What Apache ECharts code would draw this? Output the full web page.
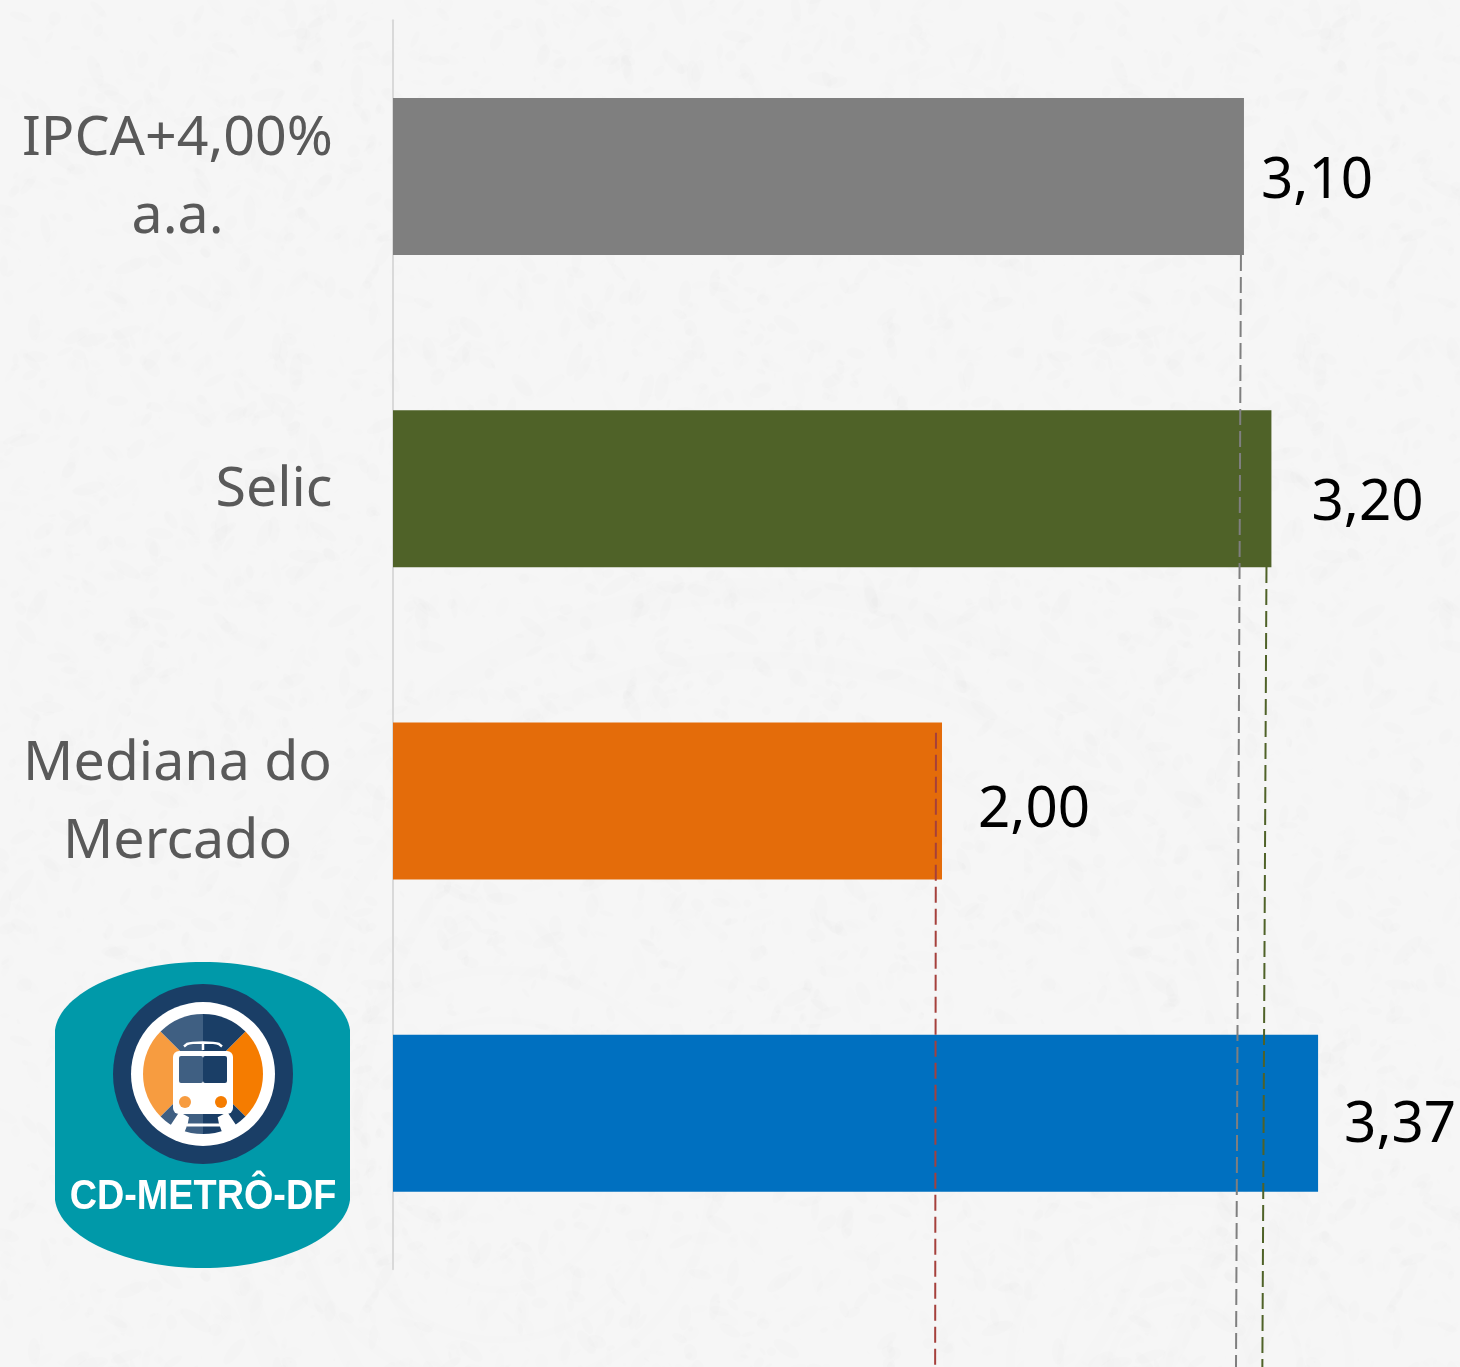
<!DOCTYPE html>
<html>
<head>
<meta charset="utf-8">
<style>html,body{margin:0;padding:0;background:#f6f6f6}#c{width:1460px;height:1367px}</style>
<script src="https://cdn.jsdelivr.net/npm/echarts@6/dist/echarts.min.js"></script>
</head>
<body>
<div id="c"></div>
<script>
const categories = ['IPCA+4,00%\na.a.', 'Selic', 'Mediana do\nMercado', 'CD-METRÔ-DF'];
const values = [3.10, 3.20, 2.00, 3.37];
const barColors = ['#7f7f7f', '#4f6228', '#e46c0a', '#0070c0'];
// dashed reference lines: [value, fraction of picture height]
const grayRef = [[3.089, 0.1865], [3.071, 1]];
const greenRef = [[3.182, 0.4148], [3.167, 1]];
const redRef = [[1.978, 0.536], [1.975, 1]];

const FONT = '"Noto Sans", "Open Sans", sans-serif';

// soft paper-like mottling (fixed sequence, decoration only)
function paperTile() {
  const S = 1024, cv = document.createElement('canvas');
  cv.width = cv.height = S;
  const g = cv.getContext('2d');
  g.fillStyle = '#f6f6f6'; g.fillRect(0, 0, S, S);
  let s = 12345;
  const next = () => (s = (s * 1664525 + 1013904223) >>> 0) / 4294967296;
  for (let i = 0; i < 3500; i++) {
    const x = next() * S, y = next() * S, r = 1 + next() * 6;
    g.fillStyle = 'rgba(0,0,0,' + (0.002 + next() * 0.007).toFixed(4) + ')';
    g.beginPath(); g.ellipse(x, y, r * (1 + next() * 2), r, next() * 3, 0, 6.3); g.fill();
  }
  return cv;
}

function ring(cx, cy, r, w) {
  return { type: 'circle', silent: true, z: -10, shape: { cx, cy, r },
    style: { fill: 'none', stroke: 'rgba(0,0,0,0.005)', lineWidth: w } };
}
const bgArcs = [
  ring(760, 1130, 540, 26), ring(760, 1130, 470, 18), ring(760, 1130, 400, 14),
  ring(500, 1180, 210, 10), ring(500, 1180, 160, 8), ring(500, 1180, 110, 8),
  ring(1180, 1370, 170, 10), ring(1180, 1370, 120, 8), ring(1180, 1370, 70, 8)
];

const shapes = {
  logoBody: 'M55 1030 C60 992 128 962 203 962 C278 962 345 992 350 1030 L350 1200 C345 1238 278 1268 203 1268 C128 1268 60 1238 55 1200 Z',
  logoPanto: 'M184 1046.5 L187 1044 C192 1042 214 1042 219 1044 L222 1046.5 M203 1043 L203 1050'
};
Object.keys(shapes).forEach(k => echarts.graphic.registerShape(k, echarts.graphic.extendPath(shapes[k], {})));

const deg = d => d * Math.PI / 180;
const cx = 203, cy = 1074;
function sector(r, a0, a1, fill) {
  return { type: 'sector', silent: true, shape: { cx, cy, r0: 0, r, startAngle: deg(a0), endAngle: deg(a1) }, style: { fill } };
}
const logo = [
  { type: 'logoBody', silent: true, style: { fill: '#0099a9' } },
  { type: 'circle', silent: true, shape: { cx, cy, r: 90 }, style: { fill: '#1a3e66' } },
  { type: 'circle', silent: true, shape: { cx, cy, r: 72 }, style: { fill: '#ffffff' } },
  sector(60, 135, 225, '#f79c40'),
  sector(60, -45, 45, '#f57c00'),
  sector(60, 225, 270, '#3f5f82'),
  sector(60, 270, 315, '#1a3e66'),
  sector(60, 90, 135, '#3f5f82'),
  sector(60, 45, 90, '#1a3e66'),
  { type: 'polygon', silent: true, shape: { points: [[179.3, 1112], [189, 1117.3], [187.7, 1124], [184.3, 1132.7], [180, 1136.7], [166.7, 1130], [170.7, 1125]] }, style: { fill: '#ffffff' } },
  { type: 'polygon', silent: true, shape: { points: [[227.3, 1112], [217.7, 1117.3], [219, 1124], [222.3, 1132.7], [226.7, 1136.7], [240, 1130], [236, 1125]] }, style: { fill: '#ffffff' } },
  { type: 'rect', silent: true, shape: { x: 187, y: 1123.5, width: 33, height: 3 }, style: { fill: '#ffffff' } },
  { type: 'rect', silent: true, shape: { x: 173, y: 1051, width: 60, height: 63, r: 6 }, style: { fill: '#ffffff' } },
  { type: 'rect', silent: true, shape: { x: 179, y: 1056, width: 24, height: 27, r: 2 }, style: { fill: '#3f5f82' } },
  { type: 'rect', silent: true, shape: { x: 203, y: 1056, width: 24, height: 27, r: 2 }, style: { fill: '#1a3e66' } },
  { type: 'circle', silent: true, shape: { cx: 185, cy: 1102, r: 6 }, style: { fill: '#f79c40' } },
  { type: 'circle', silent: true, shape: { cx: 221, cy: 1102, r: 6 }, style: { fill: '#f57c00' } },
  { type: 'logoPanto', silent: true, style: { fill: 'none', stroke: '#ffffff', lineWidth: 2.5 } },
  { type: 'text', silent: true, x: 203, y: 1197, scaleX: 0.9,
    style: { text: categories[3], font: 'bold 42px "Liberation Sans", Arial, sans-serif', fill: '#ffffff', align: 'center', verticalAlign: 'middle' } }
];

const labelOffsets = [[17, 6], [40, 15], [36, 10], [26, 13]];

function refSeries(data, color) {
  return { type: 'line', xAxisIndex: 1, yAxisIndex: 1, data, symbol: 'none', silent: true, z: 5,
    lineStyle: { color, width: 2, type: [16, 6] } };
}

const AXIS_MAX = 3.887;
const option = {
  animation: false,
  backgroundColor: { image: paperTile(), repeat: 'repeat' },
  grid: [
    { left: 393, top: 20.25, right: 0, height: 1249 },
    { left: 393, top: 0, right: 0, height: 1367 }
  ],
  xAxis: [
    { type: 'value', gridIndex: 0, min: 0, max: AXIS_MAX, show: false },
    { type: 'value', gridIndex: 1, min: 0, max: AXIS_MAX, show: false }
  ],
  yAxis: [
    { type: 'category', gridIndex: 0, inverse: true, data: categories, offset: 1.5,
      axisLine: { show: true, lineStyle: { color: '#d9d9d9', width: 2 } },
      axisTick: { show: false },
      axisLabel: {
        margin: 59, interval: 0, fontFamily: FONT, fontSize: 55.5, color: '#595959', padding: [4, 0, 0, 0],
        formatter: (v, i) => i === 3 ? '' : (v.includes('\n')
          ? v.split('\n').map(l => '{c|' + l + '}').join('\n') : '{r|' + v + '}'),
        rich: {
          c: { width: 310, align: 'center', fontFamily: FONT, fontSize: 55.5, color: '#595959', lineHeight: 78 },
          r: { align: 'right', fontFamily: FONT, fontSize: 55.5, color: '#595959' }
        }
      } },
    { type: 'value', gridIndex: 1, min: 0, max: 1, inverse: true, show: false }
  ],
  series: [
    { type: 'bar', xAxisIndex: 0, yAxisIndex: 0, barWidth: 157,
      data: values.map((v, i) => ({
        value: v, itemStyle: { color: barColors[i] },
        label: { show: true, position: 'right', distance: 0, offset: labelOffsets[i],
          formatter: p => p.value.toFixed(2).replace('.', ','),
          fontFamily: FONT, fontSize: 56.5, color: '#000000' }
      })) },
    refSeries(grayRef, '#7f7f7f'),
    refSeries(greenRef, '#4f6228'),
    refSeries(redRef, '#a5403c')
  ],
  graphic: { elements: bgArcs.concat(logo) }
};
echarts.init(document.getElementById('c')).setOption(option);
</script>
</body>
</html>
